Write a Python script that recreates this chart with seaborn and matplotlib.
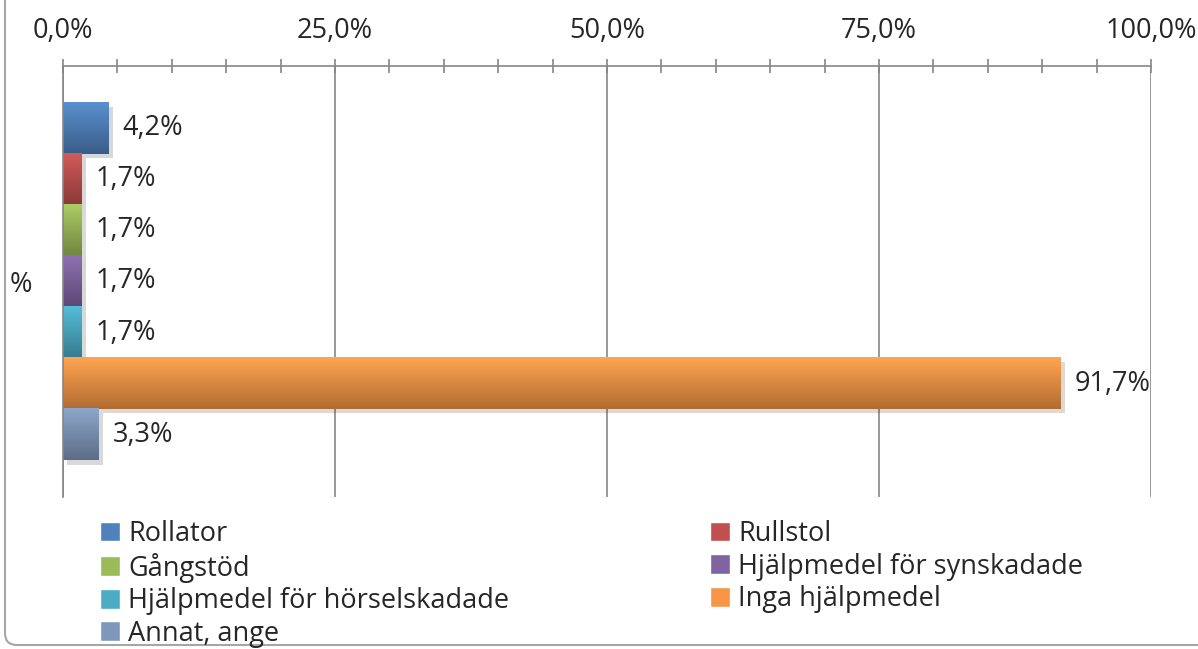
import numpy as np
import pandas as pd
import seaborn as sns
import matplotlib
matplotlib.use("Agg")
import matplotlib.pyplot as plt
from matplotlib.patches import FancyBboxPatch, Patch
from matplotlib.ticker import MultipleLocator, FixedLocator, NullFormatter
from matplotlib.colors import to_rgb
import matplotlib.patheffects as pe

# data
categories = ["%"]
series = ["Rollator", "Rullstol", "Gångstöd", "Hjälpmedel för synskadade",
          "Hjälpmedel för hörselskadade", "Inga hjälpmedel", "Annat, ange"]
values = [4.2, 1.7, 1.7, 1.7, 1.7, 91.7, 3.3]
colors = ["#4F81BD", "#C0504D", "#9BBB59", "#8064A2", "#4BACC6", "#F79646", "#7F97BA"]
xticks = [0, 25, 50, 75, 100]

GREY = "#868686"
FS = 19.5

df = pd.DataFrame({"kategori": categories * len(series), "serie": series, "andel": values})

sns.set_style("white")
plt.rcParams["font.family"] = ["Open Sans", "DejaVu Sans"]

fig = plt.figure(figsize=(11.98, 6.49), dpi=100)
ax = fig.add_axes([63 / 1198, 1 - 497 / 649, (1151 - 63) / 1198, (497 - 66) / 649])

sns.barplot(data=df, x="andel", y="kategori", hue="serie", hue_order=series,
            palette=colors, saturation=1, width=0.83, orient="h", ax=ax, legend=False)

# excel-ish vertical gradient + soft shadow on each bar
for patch, c in zip(ax.patches, colors):
    base = np.array(to_rgb(c))
    top = np.clip(base * 1.05 + 0.03, 0, 1)
    bot = base * 0.72
    grad = np.linspace(0, 1, 64)[:, None, None]
    img = top * (1 - grad) + bot * grad
    x0, y0 = patch.get_x(), patch.get_y()
    w, h = patch.get_width(), patch.get_height()
    patch.set_path_effects([pe.SimplePatchShadow(offset=(3, -3), alpha=0.18), pe.Normal()])
    patch.set_edgecolor("none")
    ax.imshow(img, extent=[x0, x0 + w, y0 + h, y0], aspect="auto",
              clip_path=patch, zorder=patch.get_zorder() + 0.1, interpolation="bilinear")

for cont, v in zip(ax.containers, values):
    ax.bar_label(cont, labels=[f"{v:.1f}%".replace(".", ",")], padding=10, fontsize=FS)

ax.set_xlim(0, 100)
ax.set_ylim(0.5, -0.5)
ax.set_xlabel("")
ax.set_ylabel("")

ax.xaxis.tick_top()
ax.set_xticks(xticks)
ax.set_xticklabels([f"{t:.1f}%".replace(".", ",") for t in xticks])
ax.xaxis.set_minor_locator(MultipleLocator(5))
ax.tick_params(axis="x", which="both", direction="inout", length=10, width=1.2,
               color=GREY, labelsize=FS, pad=10)

ax.set_yticks([0])
ax.set_yticklabels(categories)
ax.yaxis.set_minor_locator(FixedLocator([-0.5, 0.5]))
ax.yaxis.set_minor_formatter(NullFormatter())
ax.tick_params(axis="y", which="major", direction="out", length=6, width=1.2,
               color=GREY, labelsize=FS, pad=16)
ax.tick_params(axis="y", which="minor", direction="inout", length=14, width=1.2, color=GREY)

ax.grid(True, axis="x", which="major", color=GREY, linewidth=1.2)
ax.grid(False, axis="y")
ax.set_axisbelow(True)
for s in ["right", "bottom"]:
    ax.spines[s].set_visible(False)
for s in ["top", "left"]:
    ax.spines[s].set_color(GREY)
    ax.spines[s].set_linewidth(1.2)

# legend filled row by row like the original
handles = [Patch(facecolor=c) for c in colors]
order = [0, 2, 4, 6, 1, 3, 5]
fig.legend([handles[i] for i in order], [series[i] for i in order], ncol=2,
           loc="upper left", bbox_to_anchor=(100 / 1198, 0, 983 / 1198, 1 - 520 / 649),
           mode="expand", frameon=False, fontsize=FS, handlelength=0.75, handleheight=0.75,
           handletextpad=0.3, labelspacing=0.17, borderpad=0, borderaxespad=0)

# rounded chart-area border (only left/bottom corner shows in the crop)
border = FancyBboxPatch((0.05, 0.04), 13, 8, boxstyle="round,pad=0,rounding_size=0.12",
                        transform=fig.dpi_scale_trans, facecolor="none",
                        edgecolor="#A6A6A6", linewidth=1.5)
fig.add_artist(border)

fig.savefig("out.png", dpi=100)
